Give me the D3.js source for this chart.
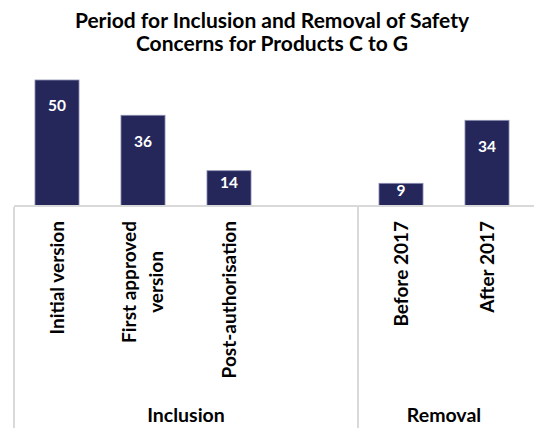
<!DOCTYPE html>
<html>
<head>
<meta charset="utf-8">
<script src="https://cdn.jsdelivr.net/npm/d3@7"></script>
<style>
  html, body { margin: 0; padding: 0; background: #ffffff; }
  svg { display: block; }
  text { font-family: Lato, "Open Sans", sans-serif; font-weight: 700; }
</style>
</head>
<body>
<svg id="chart" width="534" height="428"></svg>
<script>
// Safety concerns per period (the fourth slot is an empty spacer inside "Inclusion")
const categories = ["Initial version", "First approved\nversion", "Post-authorisation", "", "Before 2017", "After 2017"];
const counts     = [50, 36, 14, null, 9, 34];
const groups     = ["Inclusion", "Removal"];
const groupSizes = [4, 2];
const titleLines = ["Period for Inclusion and Removal of Safety", "Concerns for Products C to G"];

const W = 534, H = 428;
const barColor = "#25275b";
const lineColor = "#d9d9d9";

const svg = d3.select("#chart");

// Title
svg.append("text")
  .attr("x", 272).attr("y", 28)
  .attr("text-anchor", "middle")
  .attr("font-size", 21)
  .attr("fill", "#000")
  .selectAll("tspan")
  .data(titleLines)
  .join("tspan")
  .attr("x", 272)
  .attr("dy", (d, i) => i === 0 ? 0 : 23)
  .text(d => d);

// Scales
const keys = categories.map((c, i) => i);
const x = d3.scaleBand()
  .domain(keys)
  .range([14, 530])
  .paddingInner(0.488)
  .paddingOuter(0.244);

const baseY = 206;
const y = d3.scaleLinear().domain([0, 50]).range([baseY, 80]);

// Bars
const data = keys.filter(i => counts[i] != null).map(i => ({ i, v: counts[i] }));

svg.append("g")
  .selectAll("rect")
  .data(data)
  .join("rect")
  .attr("x", d => x(d.i))
  .attr("width", x.bandwidth())
  .attr("y", d => y(d.v))
  .attr("height", d => y(0) - y(d.v))
  .attr("fill", barColor)
  .attr("stroke", "#8c8eb2")
  .attr("stroke-width", 0.8);

// Value labels inside bars
svg.append("g")
  .selectAll("text")
  .data(data)
  .join("text")
  .attr("x", d => x(d.i) + x.bandwidth() / 2)
  .attr("y", d => {
    const h = y(0) - y(d.v);
    return y(d.v) + Math.min(26, h / 3);
  })
  .attr("dy", "0.35em")
  .attr("text-anchor", "middle")
  .attr("font-size", 15.5)
  .attr("fill", "#ffffff")
  .text(d => d.v);

// Category axis line
const step = x.step();
const axisLeft = x.range()[0];
svg.append("line")
  .attr("x1", axisLeft).attr("x2", W)
  .attr("y1", baseY).attr("y2", baseY)
  .attr("stroke", lineColor)
  .attr("stroke-width", 2);

// Group dividers and group labels
let start = 0;
groups.forEach((g, gi) => {
  const x0 = axisLeft + start * step;
  const x1 = axisLeft + (start + groupSizes[gi]) * step;
  svg.append("line")
    .attr("x1", x0).attr("x2", x0)
    .attr("y1", baseY + 1).attr("y2", H)
    .attr("stroke", lineColor)
    .attr("stroke-width", 2);
  svg.append("text")
    .attr("x", (x0 + x1) / 2)
    .attr("y", 421.5)
    .attr("text-anchor", "middle")
    .attr("font-size", 19.5)
    .attr("fill", "#000")
    .text(g);
  start += groupSizes[gi];
});

// Rotated category labels, top-aligned just below the axis
const labelTop = 221;
const lineStep = 27;
keys.forEach(i => {
  const lines = categories[i] ? categories[i].split("\n") : [];
  if (!lines.length) return;
  const cx = x(i) + x.bandwidth() / 2;
  const t = svg.append("text")
    .attr("text-anchor", "middle")
    .attr("font-size", 19)
    .attr("fill", "#000");
  const spans = lines.map((ln, k) =>
    t.append("tspan")
      .attr("x", 0)
      .attr("y", (k - (lines.length - 1) / 2) * lineStep)
      .attr("dy", "0.35em")
      .text(ln));
  const w = d3.max(spans, s => s.node().getComputedTextLength());
  t.attr("transform", `translate(${cx},${labelTop + w / 2}) rotate(-90)`);
});
</script>
</body>
</html>
